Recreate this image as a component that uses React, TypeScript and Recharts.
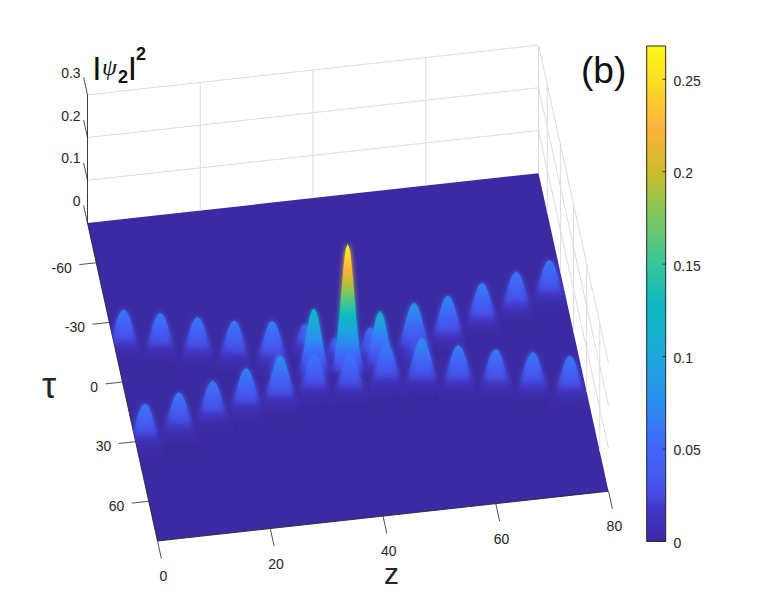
import { ComposedChart, BarChart, Area, Bar, Scatter, ReferenceLine, XAxis, YAxis } from 'recharts'

// axis ticks
const zTicks = [0, 20, 40, 60, 80]
const tauTicks = [-60, -30, 0, 30, 60]
const heightTicks = [0, 0.1, 0.2, 0.3]
const colorbarTicks = [0, 0.05, 0.1, 0.15, 0.2, 0.25]

const zRange = [0, 80]
const tauRange = [-80, 80]
const colorMax = 0.268

// pulses: back branch, crossing region, front branch
const peakZ = [2, 8.2, 14.5, 20.7, 27.2, 33.1, 52.2, 58.5, 65, 71.4, 77.6, 37.9, 44.1, 33.9, 39.9, 45.6, 27.6, 51.3, 33.3, 46.1, 39.5, 52.3, 27.1, 58.5, 20.9, 64.9, 14.7, 71.2, 8.4, 2.1, 77.5]
const peakTau = [-23, -19.4, -15.4, -11.5, -8.3, -9.3, -6.3, -10.2, -15.6, -20.3, -24.2, -2.2, -2.1, 0.4, 0.6, 1.1, 0, 2.5, 9.2, 8.7, 11.2, 10.3, 11.2, 13.7, 13.5, 16.6, 16.8, 20, 20.7, 24.3, 24]
const peakHeight = [0.06, 0.06, 0.06, 0.06, 0.065, 0.045, 0.08, 0.07, 0.065, 0.06, 0.06, 0.04, 0.055, 0.125, 0.268, 0.105, 0.03, 0.03, 0.06, 0.065, 0.06, 0.075, 0.075, 0.065, 0.065, 0.06, 0.06, 0.06, 0.06, 0.06, 0.06]
const peakWidthZ = [1.75, 1.75, 1.75, 1.75, 1.75, 1.5, 1.75, 1.75, 1.75, 1.75, 1.75, 1.3, 1.4, 1.42, 1.2, 1.42, 1.5, 1.5, 1.75, 1.75, 1.75, 1.75, 1.75, 1.75, 1.75, 1.75, 1.75, 1.75, 1.75, 1.75, 1.75]
const peakWidthTau = [6, 6, 6, 6, 6, 4.5, 6, 6, 6, 6, 6, 4, 4.5, 5, 5, 5, 4, 4, 6, 6, 6, 6, 6, 6, 6, 6, 6, 6, 6, 6, 6]

// colormap as shown on the colorbar
const colorFractions = [0, 0.07, 0.1, 0.186, 0.28, 0.373, 0.477, 0.56, 0.66, 0.74, 0.835, 0.92, 1]
const colorValues = ['#3c2aa2', '#4237cc', '#4650e8', '#4066f8', '#2b8cef', '#1ea8da', '#0bb8c0', '#39c69a', '#80c85c', '#c9bc2b', '#fdb33a', '#fdd828', '#f9fb15']

const TEXT = '#262626'
const GRID = '#dcdcdc'

// view of the box on the page
const ORIGIN = { x: 87.5, y: 223 } // z = 0, tau = -80, height = 0
const Z_STEP = { x: 5.638, y: -0.6225 }
const TAU_STEP = { x: 0.4375, y: 1.9875 }
const HEIGHT_STEP = 427

const project = (z: number, tau: number, h = 0) => ({
  x: ORIGIN.x + z * Z_STEP.x + (tau - tauRange[0]) * TAU_STEP.x,
  y: ORIGIN.y + z * Z_STEP.y + (tau - tauRange[0]) * TAU_STEP.y - h * HEIGHT_STEP,
})

function colorAt(frac: number) {
  const f = Math.min(1, Math.max(0, frac))
  let i = 0
  while (i < colorFractions.length - 2 && colorFractions[i + 1] < f) i++
  const t = (f - colorFractions[i]) / (colorFractions[i + 1] - colorFractions[i])
  const parse = (c: string) => [1, 3, 5].map((k) => parseInt(c.slice(k, k + 2), 16))
  const a = parse(colorValues[i])
  const b = parse(colorValues[i + 1])
  return `rgb(${a.map((v, k) => Math.round(v + (b[k] - v) * t)).join(',')})`
}

const peaks = peakZ
  .map((z, i) => ({
    ...project(z, peakTau[i]),
    z,
    tau: peakTau[i],
    h: peakHeight[i],
    wz: peakWidthZ[i],
    wt: peakWidthTau[i],
  }))
  .sort((a, b) => a.tau - b.tau)

// corners of the floor
const cA = project(zRange[0], tauRange[0])
const cB = project(zRange[0], tauRange[1])
const cC = project(zRange[1], tauRange[1])
const cD = project(zRange[1], tauRange[0])

const lerpY = (p: { x: number; y: number }, q: { x: number; y: number }, x: number) =>
  p.y + ((q.y - p.y) * (x - p.x)) / (q.x - p.x)

const floorBand = [
  { x: cA.x, band: [cA.y, cA.y] },
  { x: cB.x, band: [lerpY(cA, cD, cB.x), cB.y] },
  { x: cD.x, band: [cD.y, lerpY(cB, cC, cD.x)] },
  { x: cC.x, band: [cC.y, cC.y] },
]

const SHARES = [1, 0.96, 0.92, 0.88, 0.84, 0.8, 0.76, 0.72, 0.68, 0.64, 0.6, 0.56, 0.52, 0.48, 0.44, 0.4, 0.36, 0.32, 0.28, 0.24, 0.2, 0.16, 0.13, 0.1, 0.08, 0.06, 0.04]

// one pulse: bell outline, coloured by height down its front face
function PulseShape(props: any) {
  const { cx, cy, payload } = props
  const { z, tau, h, wz, wt } = payload
  const top = cy - h * HEIGHT_STEP
  const drop = (s: number) => (1 - s) * h * HEIGHT_STEP + wt * TAU_STEP.y * Math.sqrt(2 * Math.log(1 / s))
  const length = drop(SHARES[SHARES.length - 1])
  const sigma = wz * Z_STEP.x

  const right = []
  for (let i = 0; i <= 24; i++) {
    const d = 0.95 * (i / 24)
    const half = sigma * Math.sqrt(2 * Math.log(1 / (1 - d)))
    right.push([half, top + d * length])
  }
  const outline =
    right.map(([w, y], i) => `${i ? 'L' : 'M'}${(cx + w).toFixed(1)},${y.toFixed(1)}`).join(' ') +
    ' ' +
    [...right].reverse().map(([w, y]) => `L${(cx - w).toFixed(1)},${y.toFixed(1)}`).join(' ') +
    ' Z'

  const id = `pulse-${z}-${tau}`.replace(/\./g, '_')
  const stops = (fade: (level: number) => number) =>
    SHARES.map((s) => (
      <stop key={s} offset={drop(s) / length} stopColor={colorAt((h * s) / colorMax)} stopOpacity={fade(h * s)} />
    ))

  return (
    <g clipPath="url(#floorClip)">
      <defs>
        <linearGradient id={`${id}-soft`} gradientUnits="userSpaceOnUse" x1={0} x2={0} y1={top} y2={top + length}>
          {stops((l) => Math.min(1, l / 0.03))}
        </linearGradient>
        <linearGradient id={`${id}-crisp`} gradientUnits="userSpaceOnUse" x1={0} x2={0} y1={top} y2={top + length}>
          {stops((l) => Math.max(0, Math.min(1, (l - 0.025) / 0.025)))}
        </linearGradient>
      </defs>
      <path d={outline} fill={`url(#${id}-soft)`} filter="url(#pulseBlur)" />
      <path d={outline} fill={`url(#${id}-crisp)`} />
    </g>
  )
}

const axisLabel = (text: string, x: number, y: number, anchor = 'end') => (
  <text key={text + x} x={x} y={y} fontSize={14} fill={TEXT} textAnchor={anchor} fontFamily="Liberation Sans">
    {text}
  </text>
)

function ColorbarTick(props: any) {
  const { y, payload } = props
  const x = props.x - 8
  return (
    <g>
      <line x1={x - 3.5} x2={x} y1={y} y2={y} stroke={TEXT} strokeWidth={0.8} />
      <text x={x + 7.5} y={y + 6.5} fontSize={14} fill={TEXT} fontFamily="Liberation Sans">
        {payload.value}
      </text>
    </g>
  )
}

const seg = (key: string, p: { x: number; y: number }, q: { x: number; y: number }, color = GRID, w = 1) => (
  <ReferenceLine key={key} segment={[{ x: p.x, y: p.y }, { x: q.x, y: q.y }]} stroke={color} strokeWidth={w} />
)

const TAU_TICK = 8.8 // tick length, in tau units
const Z_TICK = 3

export default function App() {
  const top = heightTicks[heightTicks.length - 1]
  return (
    <div style={{ position: 'absolute', left: 0, top: 0, width: 758, height: 609, background: '#fff' }}>
      <div style={{ position: 'absolute', left: 0, top: 0 }}>
        <ComposedChart width={758} height={609} data={floorBand} margin={{ top: 0, right: 0, bottom: 0, left: 0 }}>
          <defs>
            <clipPath id="floorClip">
              <polygon points={[cA, cB, cC, cD].map((c) => `${c.x},${c.y}`).join(' ')} />
            </clipPath>
            <filter id="pulseBlur" x="-60%" y="-20%" width="220%" height="140%">
              <feGaussianBlur stdDeviation="2.5" />
            </filter>
          </defs>
          <XAxis dataKey="x" type="number" domain={[0, 758]} hide allowDataOverflow />
          <YAxis dataKey="y" type="number" domain={[0, 609]} reversed hide allowDataOverflow />

          {/* back wall */}
          {heightTicks.slice(1).map((h) =>
            seg(`bw${h}`, project(zRange[0], tauRange[0], h), project(zRange[1], tauRange[0], h)),
          )}
          {zTicks.slice(1, -1).map((z) => seg(`bv${z}`, project(z, tauRange[0]), project(z, tauRange[0], top)))}
          {/* right wall */}
          {heightTicks.slice(1).map((h) =>
            seg(`rw${h}`, project(zRange[1], tauRange[0], h), project(zRange[1], tauRange[1], h)),
          )}
          {[tauRange[0], ...tauTicks].map((t) => seg(`rv${t}`, project(zRange[1], t), project(zRange[1], t, top)))}

          <Area dataKey="band" type="linear" stroke="none" fill={colorValues[0]} fillOpacity={1} dot={false} activeDot={false} isAnimationActive={false} />
          <Scatter data={peaks} shape={PulseShape} isAnimationActive={false} />

          {/* axes */}
          {seg('axH', project(zRange[0], tauRange[0]), project(zRange[0], tauRange[0], top), TEXT, 0.9)}
          {seg('axT', cA, cB, TEXT, 0.9)}
          {seg('axZ', cB, cC, TEXT, 0.9)}
          {heightTicks.map((h) =>
            seg(`th${h}`, project(zRange[0], tauRange[0], h), project(zRange[0], tauRange[0] - TAU_TICK, h), TEXT, 0.8),
          )}
          {tauTicks.map((t) => seg(`tt${t}`, project(zRange[0], t), project(zRange[0] - Z_TICK, t), TEXT, 0.8))}
          {zTicks.map((z) => seg(`tz${z}`, project(z, tauRange[1]), project(z, tauRange[1] + TAU_TICK), TEXT, 0.8))}

          {heightTicks.map((h) => {
            const p = project(zRange[0], tauRange[0] - TAU_TICK, h)
            return axisLabel(String(h), p.x - 3, p.y + 0.5)
          })}
          {tauTicks.map((t) => {
            const p = project(zRange[0] - Z_TICK, t)
            return axisLabel(String(t), p.x - 7.5, p.y + 8)
          })}
          {zTicks.map((z) => {
            const p = project(z, tauRange[1] + TAU_TICK)
            return axisLabel(String(z), p.x + 2, p.y + 22.5, 'middle')
          })}

          <text y={75} fontSize={24} fill="#111" fontFamily="Liberation Sans">
            <tspan x={93.5} fontWeight="bold">|</tspan>
            <tspan x={102} fontFamily="Liberation Serif" fontStyle="italic">ψ</tspan>
            <tspan x={118} y={83} fontSize={18} fontWeight="bold">2</tspan>
            <tspan x={129} y={75} fontWeight="bold">|</tspan>
            <tspan x={136} y={60} fontSize={18} fontWeight="bold">2</tspan>
          </text>
          <text x={42} y={398} fontSize={36} fill={TEXT} fontFamily="Liberation Sans">τ</text>
          <text x={384} y={584} fontSize={30} fill={TEXT} fontFamily="Liberation Sans">z</text>
          <text x={581} y={83} fontSize={37} fill="#111" fontFamily="Liberation Sans">(b)</text>
        </ComposedChart>
      </div>

      <div style={{ position: 'absolute', left: 640, top: 40 }}>
        <BarChart
          width={80}
          height={510}
          data={[{ name: 'scale', value: colorMax }]}
          margin={{ top: 6, right: 14, bottom: 8.6, left: 6.7 }}
          barCategoryGap={0}
        >
          <defs>
            <linearGradient id="colorbarFill" x1="0" y1="1" x2="0" y2="0">
              {colorFractions.map((f, i) => (
                <stop key={f} offset={f} stopColor={colorValues[i]} />
              ))}
            </linearGradient>
          </defs>
          <XAxis dataKey="name" hide />
          <YAxis
            orientation="right"
            type="number"
            domain={[0, colorMax]}
            ticks={colorbarTicks}
            width={40}
            axisLine={false}
            tickLine={false}
            tick={ColorbarTick}
            interval={0}
          />
          <Bar dataKey="value" fill="url(#colorbarFill)" stroke={TEXT} strokeWidth={1} isAnimationActive={false} />
        </BarChart>
      </div>
    </div>
  )
}
